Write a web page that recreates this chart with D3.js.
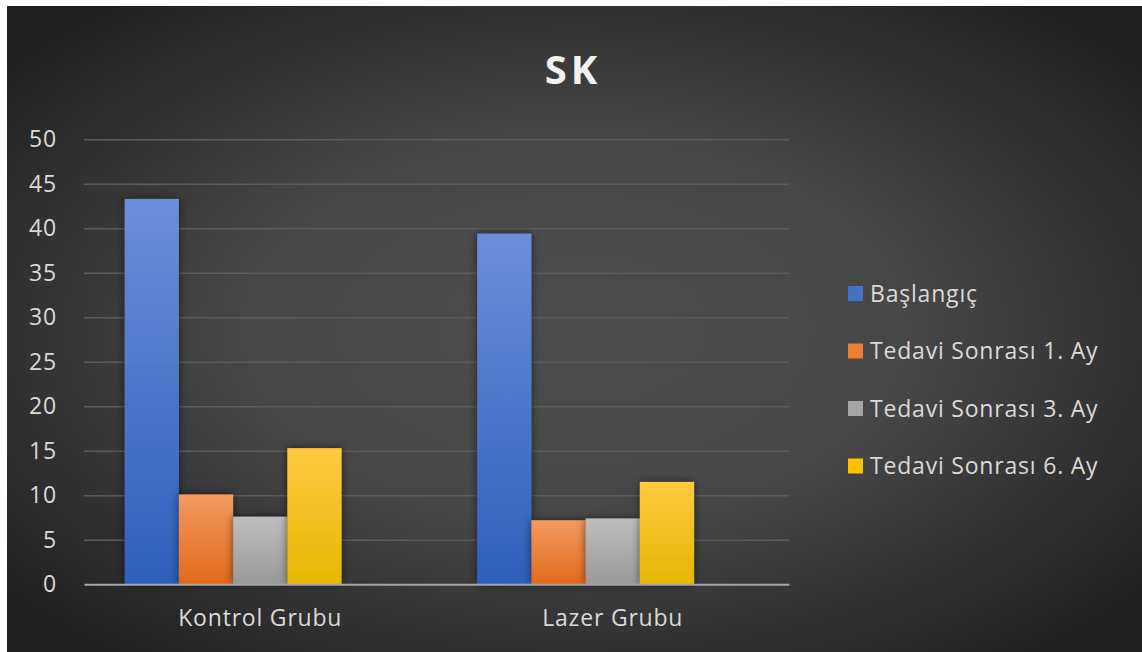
<!DOCTYPE html>
<html>
<head>
<meta charset="utf-8">
<script src="https://cdn.jsdelivr.net/npm/d3@7"></script>
<style>
  body { margin: 0; background: #fff; }
  svg { display: block; }
  text { font-family: "Open Sans", sans-serif; }
</style>
</head>
<body>
<svg></svg>
<script>
let categories = ['Kontrol Grubu', 'Lazer Grubu']
let seriesNames = ['Başlangıç', 'Tedavi Sonrası 1. Ay', 'Tedavi Sonrası 3. Ay', 'Tedavi Sonrası 6. Ay']
let baslangic = [43.3, 39.4]
let ay1 = [10.1, 7.2]
let ay3 = [7.6, 7.4]
let ay6 = [15.3, 11.5]
let yTicks = [0, 5, 10, 15, 20, 25, 30, 35, 40, 45, 50]
let title = 'SK'

let seriesValues = [baslangic, ay1, ay3, ay6]
// top / bottom colours of each bar gradient
let colorsTop = ['#6b8fd8', '#f39a5f', '#bdbdbd', '#ffca42']
let colorsBottom = ['#2e5fbd', '#e2691a', '#999999', '#e5b700']
let legendColors = ['#4472c4', '#ed7d31', '#a5a5a5', '#ffc000']

let w = 1142
let h = 652
let plotLeft = 84
let plotRight = 789
let plotTop = 139.3
let plotBottom = 584.3
let fs = 23
let ls = 0.8

let svg = d3.select('svg').attr('width', w).attr('height', h)
let defs = svg.append('defs')

let bg = defs.append('radialGradient').attr('id', 'bg')
  .attr('cx', '50%').attr('cy', '50%').attr('r', '65%')
bg.append('stop').attr('offset', '0%').attr('stop-color', '#4d4d4d')
bg.append('stop').attr('offset', '45%').attr('stop-color', '#474747')
bg.append('stop').attr('offset', '100%').attr('stop-color', '#202020')

seriesNames.forEach((s, i) => {
  let g = defs.append('linearGradient').attr('id', 'bar' + i)
    .attr('x1', 0).attr('y1', 0).attr('x2', 0).attr('y2', 1)
  g.append('stop').attr('offset', '0%').attr('stop-color', colorsTop[i])
  g.append('stop').attr('offset', '100%').attr('stop-color', colorsBottom[i])
})

let shadow = defs.append('filter').attr('id', 'shadow')
  .attr('x', '-30%').attr('y', '-30%').attr('width', '160%').attr('height', '160%')
shadow.append('feDropShadow').attr('dx', 0).attr('dy', 0)
  .attr('stdDeviation', 4).attr('flood-color', '#000').attr('flood-opacity', 0.55)

svg.append('rect')
  .attr('x', 7).attr('y', 6)
  .attr('width', w - 7).attr('height', h - 6)
  .attr('fill', 'url(#bg)')

let yScale = d3.scaleLinear().domain([0, 50]).range([plotBottom, plotTop])
let x0 = d3.scaleBand().domain(categories).range([plotLeft, plotRight])
// five slots per group: the chart leaves one empty slot after the four series
let x1 = d3.scaleBand().domain(d3.range(seriesNames.length + 1))
  .range([0, x0.bandwidth()]).paddingInner(0).paddingOuter(0.75)

// gridlines
let yAxis = d3.axisLeft(yScale).tickValues(yTicks)
  .tickSize(-(plotRight - plotLeft)).tickPadding(27)
let yg = svg.append('g')
  .attr('transform', 'translate(' + plotLeft + ',0)')
  .call(yAxis)
yg.select('.domain').remove()
yg.selectAll('.tick line')
  .attr('stroke', '#5c5c5c').attr('stroke-width', 1.5)
  .filter(d => d === 0).remove()
yg.selectAll('.tick text')
  .attr('fill', '#d9d9d9').attr('font-size', fs).attr('letter-spacing', ls)

// bars
let groups = svg.selectAll('.grp')
  .data(categories)
  .enter()
  .append('g')
  .attr('class', 'grp')
  .attr('transform', d => 'translate(' + x0(d) + ',0)')

groups.selectAll('rect')
  .data((c, ci) => seriesValues.map((vals, si) => ({ si: si, v: vals[ci] })))
  .enter()
  .append('rect')
  .attr('x', d => x1(d.si))
  .attr('width', x1.bandwidth())
  .attr('y', d => yScale(d.v))
  .attr('height', d => yScale(0) - yScale(d.v))
  .attr('fill', d => 'url(#bar' + d.si + ')')
  .attr('filter', 'url(#shadow)')

// baseline axis
let xAxis = d3.axisBottom(x0).tickSize(0).tickPadding(25)
let xg = svg.append('g')
  .attr('transform', 'translate(0,' + plotBottom + ')')
  .call(xAxis)
xg.select('.domain').attr('stroke', '#a6a6a6').attr('stroke-width', 2)
xg.selectAll('.tick text')
  .attr('fill', '#d9d9d9').attr('font-size', fs).attr('letter-spacing', ls)

// title
svg.append('text')
  .attr('x', 573).attr('y', 84)
  .attr('text-anchor', 'middle')
  .attr('font-size', 40).attr('font-weight', 'bold')
  .attr('letter-spacing', 4)
  .attr('fill', '#f2f2f2')
  .text(title)

// legend
let legend = svg.selectAll('.leg')
  .data(seriesNames)
  .enter()
  .append('g')
  .attr('class', 'leg')
  .attr('transform', (d, i) => 'translate(848,' + (293 + i * 57.5) + ')')

legend.append('rect')
  .attr('x', 0).attr('y', -7).attr('width', 15).attr('height', 15)
  .attr('fill', (d, i) => legendColors[i])

legend.append('text')
  .attr('x', 22).attr('y', 8.5)
  .attr('fill', '#d9d9d9').attr('font-size', fs).attr('letter-spacing', ls)
  .text(d => d)
</script>
</body>
</html>
